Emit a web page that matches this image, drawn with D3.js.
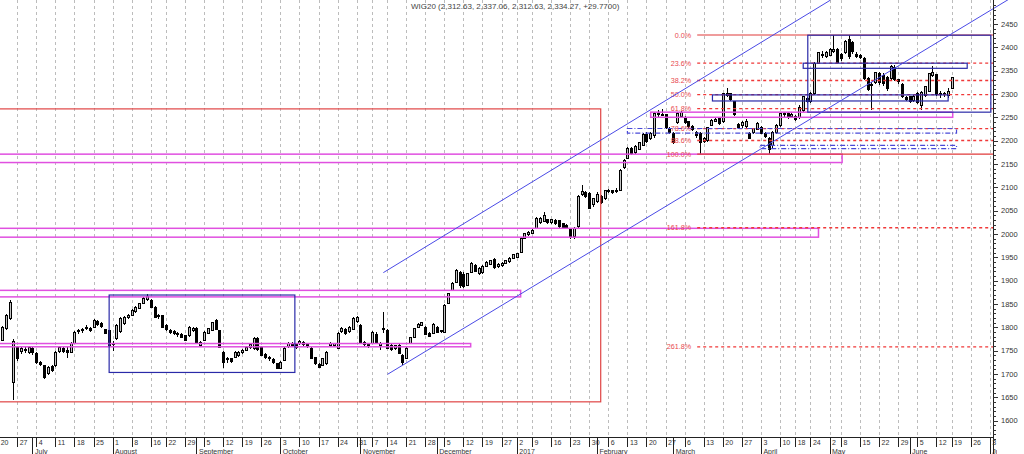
<!DOCTYPE html>
<html>
<head>
<meta charset="utf-8">
<script src="https://cdn.jsdelivr.net/npm/d3@7"></script>
<style>
  body { margin: 0; background: #fff; }
  svg { display: block; font-family: "Liberation Sans", Arial, sans-serif; }
</style>
</head>
<body>
<div id="chart"></div>
<script>
// Trading calendar (Warsaw exchange), first candle = 2016-06-20 which is index -10 (2016-07-04 = 0)
const holidays = ["2016-08-15", "2016-11-01", "2016-11-11", "2016-12-26", "2017-01-06",
                  "2017-04-14", "2017-04-17", "2017-05-01", "2017-05-03", "2017-06-15"];
const firstIndex = -10;

// Daily WIG20 candles
const opens = [
  1770,1772,1798,1819,1682,1757,1747,1752,1746,1755,
  1743,1725,1718,1701,1716,1718,1748,1755,1750,1746,
  1765,1790,1795,1797,1797,1800,1812,1809,1795,1793,
  1762,1776,1790,1808,1821,1825,1833,1840,1851,1860,
  1858,1843,1822,1825,1803,1793,1790,1786,1784,1782,
  1782,1793,1798,1761,1772,1787,1793,1815,1793,1746,
  1730,1733,1736,1740,1746,1750,1757,1754,1776,1757,
  1742,1736,1730,1722,1712,1729,1758,1765,1762,1765,
  1768,1763,1755,1735,1720,1718,1722,1760,1760,1755,
  1790,1795,1790,1795,1812,1804,1767,1763,1765,1785,
  1760,1795,1793,1760,1755,1761,1740,1733,1765,1778,
  1800,1804,1800,1786,1787,1800,1790,1789,1851,1879,
  1896,1918,1912,1890,1918,1932,1915,1918,1930,1935,
  1946,1930,1933,1937,1940,1948,1950,1961,1991,1998,
  2001,2012,2025,2027,2030,2025,2029,2028,2022,2018,
  2010,1995,2015,2085,2088,2087,2062,2070,2080,2075,
  2090,2092,2090,2094,2143,2162,2184,2175,2182,2190,
  2214,2205,2212,2255,2257,2255,2227,2216,2238,2252,
  2250,2240,2231,2218,2216,2198,2200,2233,2242,2248,
  2240,2296,2300,2283,2235,2232,2230,2216,2218,2224,
  2228,2215,2205,2190,2218,2232,2255,2258,2252,2252,
  2250,2265,2290,2283,2300,2366,2385,2380,2383,2392,
  2395,2385,2388,2416,2410,2385,2382,2377,2334,2318,
  2325,2343,2340,2335,2334,2356,2330,2320,2292,2294,
  2285,2302,2275,2296,2306,2340,2341,2300,2302,2296,2312.63
];
const highs = [
  1782,1803,1828,1858,1775,1760,1758,1757,1759,1758,
  1746,1728,1720,1717,1719,1748,1760,1758,1758,1768,
  1791,1796,1798,1804,1800,1818,1815,1812,1797,1795,
  1770,1806,1821,1824,1828,1838,1845,1852,1864,1872,
  1860,1845,1828,1827,1806,1796,1793,1789,1787,1784,
  1802,1800,1800,1770,1791,1799,1812,1818,1795,1748,
  1736,1735,1748,1748,1753,1760,1766,1780,1778,1759,
  1745,1739,1733,1724,1728,1757,1768,1768,1765,1773,
  1771,1766,1757,1737,1723,1735,1748,1768,1767,1790,
  1800,1798,1803,1822,1824,1806,1770,1766,1791,1789,
  1768,1832,1796,1763,1762,1763,1742,1757,1780,1799,
  1808,1812,1802,1789,1808,1803,1795,1849,1874,1896,
  1925,1920,1918,1917,1940,1935,1928,1933,1941,1945,
  1948,1937,1940,1945,1950,1957,1960,1993,2003,2006,
  2010,2036,2036,2048,2033,2033,2032,2030,2024,2021,
  2012,2015,2083,2104,2092,2090,2078,2090,2083,2095,
  2096,2095,2098,2140,2160,2186,2187,2191,2198,2217,
  2218,2218,2262,2265,2268,2258,2230,2218,2262,2263,
  2252,2243,2234,2221,2218,2208,2230,2246,2248,2250,
  2303,2313,2302,2285,2238,2241,2246,2218,2228,2240,
  2231,2218,2207,2221,2235,2260,2262,2262,2260,2255,
  2276,2296,2293,2304,2368,2390,2392,2392,2398,2426,
  2398,2388,2416,2426,2414,2390,2386,2380,2337,2325,
  2348,2347,2345,2338,2362,2362,2333,2323,2296,2296,
  2298,2305,2306,2318,2346,2359,2343,2306,2305,2312,2337.06
];
const lows = [
  1765,1770,1795,1815,1643,1728,1742,1745,1743,1740,
  1722,1716,1688,1698,1704,1715,1745,1745,1733,1744,
  1763,1786,1788,1793,1790,1798,1802,1798,1785,1759,
  1750,1773,1788,1805,1818,1823,1831,1838,1849,1857,
  1841,1819,1818,1798,1792,1785,1784,1780,1776,1770,
  1780,1790,1765,1758,1770,1785,1791,1793,1755,1712,
  1724,1723,1733,1737,1743,1748,1754,1752,1750,1738,
  1732,1728,1722,1710,1710,1727,1755,1757,1754,1762,
  1760,1755,1731,1720,1712,1716,1720,1757,1758,1753,
  1787,1784,1788,1793,1810,1765,1760,1756,1763,1763,
  1752,1788,1753,1750,1752,1742,1720,1731,1763,1776,
  1798,1802,1783,1778,1785,1787,1787,1787,1849,1877,
  1894,1884,1885,1888,1916,1918,1912,1915,1928,1933,
  1925,1927,1930,1935,1938,1946,1948,1959,1989,1995,
  1999,2010,2022,2025,2021,2022,2019,2013,2012,2010,
  1990,1990,2013,2082,2077,2053,2058,2066,2064,2073,
  2087,2085,2087,2092,2140,2160,2170,2172,2180,2188,
  2195,2202,2205,2250,2252,2225,2214,2193,2236,2250,
  2236,2228,2220,2206,2171,2194,2198,2231,2240,2233,
  2238,2293,2285,2253,2225,2228,2228,2203,2214,2222,
  2214,2206,2172,2183,2215,2230,2250,2247,2248,2243,
  2247,2262,2280,2280,2298,2364,2378,2377,2381,2388,
  2366,2370,2385,2376,2385,2378,2376,2330,2307,2265,
  2322,2320,2318,2306,2330,2328,2322,2292,2285,2281,
  2283,2279,2266,2294,2304,2337,2296,2292,2294,2292,2312.63
];
const closes = [
  1778,1800,1825,1853,1770,1732,1755,1750,1757,1745,
  1725,1719,1692,1714,1707,1746,1757,1748,1745,1765,
  1789,1793,1792,1800,1793,1815,1806,1801,1787,1761,
  1765,1804,1818,1821,1826,1836,1843,1850,1862,1865,
  1843,1821,1825,1800,1795,1788,1787,1784,1778,1772,
  1800,1798,1767,1767,1789,1797,1810,1795,1757,1725,
  1733,1726,1746,1745,1750,1757,1763,1776,1752,1740,
  1735,1733,1725,1712,1725,1755,1765,1760,1757,1770,
  1763,1758,1733,1722,1714,1733,1746,1765,1764,1787,
  1797,1786,1800,1819,1821,1767,1763,1760,1789,1767,
  1765,1797,1755,1753,1760,1744,1725,1755,1778,1797,
  1806,1810,1785,1780,1806,1789,1792,1847,1872,1894,
  1922,1890,1888,1915,1937,1920,1925,1930,1939,1942,
  1927,1935,1937,1943,1948,1955,1958,1991,2001,2003,
  2008,2034,2034,2040,2025,2030,2022,2015,2014,2013,
  1995,2012,2080,2090,2080,2055,2075,2085,2068,2092,
  2093,2088,2094,2137,2158,2184,2172,2188,2196,2214,
  2198,2215,2259,2258,2256,2228,2218,2196,2259,2260,
  2238,2230,2223,2210,2197,2205,2228,2244,2245,2236,
  2300,2302,2288,2255,2228,2238,2242,2205,2225,2237,
  2216,2209,2180,2218,2232,2258,2258,2250,2257,2245,
  2272,2294,2283,2300,2365,2388,2382,2388,2395,2396,
  2368,2375,2412,2380,2390,2380,2379,2333,2310,2320,
  2345,2325,2322,2312,2358,2332,2326,2294,2288,2283,
  2295,2281,2304,2315,2344,2345,2298,2302,2298,2304.5,2334.27
];

const titleText = "WIG20 (2,312.63, 2,337.06, 2,312.63, 2,334.27, +29.7700)";
const yTicks = [1600, 1650, 1700, 1750, 1800, 1850, 1900, 1950, 2000, 2050, 2100, 2150, 2200, 2250, 2300, 2350, 2400, 2450];

// Fibonacci retracement (0% = May high, 100% = March low)
const fibHigh = 2426.4;
const fibLow = 2171;
const fibStart = 173.3;
const fibLevels = [0, 23.6, 38.2, 50, 61.8, 78.6, 88.6, 100, 161.8, 261.8];
const fibLabels = ["0.0%", "23.6%", "38.2%", "50.0%", "61.8%", "78.6%", "88.6%", "100.0%", "161.8%", "261.8%"];

// Drawn objects, in trading-day index and price units
const redBoxes = [{ i0: -30, i1: 148, top: 2268, bottom: 1640 }];
const pinkBands = [
  { i0: -30, i1: 211.3, top: 2171, bottom: 2153 },
  { i0: -30, i1: 205.1, top: 2012, bottom: 1993 },
  { i0: -30, i1: 127, top: 1879, bottom: 1865 },
  { i0: -30, i1: 113.9, top: 1765, bottom: 1758 },
  { i0: 161.1, i1: 240.3, top: 2261, bottom: 2250 }
];
const blueBoxes = [
  { i0: 19.1, i1: 67.8, top: 1869, bottom: 1703 },
  { i0: 202.3, i1: 250.3, top: 2426, bottom: 2261 },
  { i0: 201.1, i1: 244.1, top: 2366, bottom: 2355 },
  { i0: 177.3, i1: 239.1, top: 2298, bottom: 2285 }
];
const dashBoxes = [
  { i0: 155, i1: 241.3, top: 2226, bottom: 2216 },
  { i0: 189.8, i1: 241.3, top: 2190, bottom: 2183 }
];
const channelLines = [
  { i0: 92.1, v0: 1699, i1: 255, v1: 2503 },
  { i0: 91, v0: 1917, i1: 208.2, v1: 2501 }
];

function draw() {
  const width = 1024, height = 454;
  const axisX = 993;     // right price axis
  const axisY = 437;     // top of the date strip

  const svg = d3.select("#chart").append("svg")
    .attr("width", width)
    .attr("height", height);

  // trading days
  const fmt = d3.utcFormat("%Y-%m-%d");
  const days = d3.utcDay.range(new Date(Date.UTC(2016, 5, 20)), new Date(Date.UTC(2017, 6, 8)))
    .filter(d => d.getUTCDay() % 6 !== 0 && !holidays.includes(fmt(d)));
  const dayIdx = days.map((d, k) => ({ date: d, i: k + firstIndex }));

  const x = d3.scaleLinear().domain([0, 250]).range([36.3, 989.7]);
  const y = d3.scaleLinear().domain([1600, 2450]).range([420.5, 24]);

  const weekStarts = dayIdx.filter((d, k) => k === 0 ||
    +d3.utcMonday.floor(d.date) !== +d3.utcMonday.floor(dayIdx[k - 1].date));
  const monthStarts = dayIdx.filter((d, k) => k > 0 &&
    d.date.getUTCMonth() !== dayIdx[k - 1].date.getUTCMonth());

  svg.append("clipPath").attr("id", "plotClip")
    .append("rect").attr("x", 0).attr("y", 0).attr("width", axisX).attr("height", axisY);
  svg.append("clipPath").attr("id", "dateClip")
    .append("rect").attr("x", 0).attr("y", axisY).attr("width", 997).attr("height", height - axisY);

  // vertical dashed grid
  svg.append("g")
    .selectAll("line")
    .data(weekStarts)
    .join("line")
    .attr("x1", d => Math.round(x(d.i)) + 0.5)
    .attr("x2", d => Math.round(x(d.i)) + 0.5)
    .attr("y1", 0)
    .attr("y2", axisY)
    .attr("stroke", "#bcbcbc")
    .attr("stroke-dasharray", "3,3");

  const plot = svg.append("g").attr("clip-path", "url(#plotClip)");

  // candles
  const candles = opens.map((o, k) => ({
    i: k + firstIndex, o, h: highs[k], l: lows[k], c: closes[k]
  }));
  const cg = plot.append("g").attr("shape-rendering", "crispEdges");
  cg.selectAll("line")
    .data(candles)
    .join("line")
    .attr("x1", d => Math.round(x(d.i)) + 0.5)
    .attr("x2", d => Math.round(x(d.i)) + 0.5)
    .attr("y1", d => y(d.h))
    .attr("y2", d => y(d.l))
    .attr("stroke", "#000");
  cg.selectAll("rect")
    .data(candles)
    .join("rect")
    .attr("x", d => Math.round(x(d.i)) - 0.5)
    .attr("width", 2)
    .attr("y", d => y(Math.max(d.o, d.c)))
    .attr("height", d => Math.max(1, y(Math.min(d.o, d.c)) - y(Math.max(d.o, d.c))))
    .attr("fill", d => d.c >= d.o ? "#c4c4c4" : "#000")
    .attr("stroke", "#000");

  // red box
  plot.append("g").selectAll("rect")
    .data(redBoxes)
    .join("rect")
    .attr("x", d => x(d.i0)).attr("width", d => x(d.i1) - x(d.i0))
    .attr("y", d => y(d.top)).attr("height", d => y(d.bottom) - y(d.top))
    .attr("fill", "none").attr("stroke", "#e04444").attr("stroke-width", 1.2);

  // pink bands
  plot.append("g").selectAll("rect")
    .data(pinkBands)
    .join("rect")
    .attr("x", d => x(d.i0)).attr("width", d => x(d.i1) - x(d.i0))
    .attr("y", d => y(d.top)).attr("height", d => y(d.bottom) - y(d.top))
    .attr("fill", "none").attr("stroke", "#e050e0").attr("stroke-width", 1.5);

  // fibonacci lines and labels
  const fib = fibLevels.map((p, k) => ({
    v: fibHigh - (fibHigh - fibLow) * p / 100, label: fibLabels[k], solid: p === 0 || p === 100
  }));
  plot.append("g")
    .selectAll("line")
    .data(fib)
    .join("line")
    .attr("x1", x(fibStart)).attr("x2", axisX)
    .attr("y1", d => y(d.v)).attr("y2", d => y(d.v))
    .attr("stroke", d => d.solid ? "#e03a3a" : "#f03838")
    .attr("stroke-width", d => d.solid ? 1.2 : 1.4)
    .attr("stroke-dasharray", d => d.solid ? null : "3,3");
  svg.append("g").selectAll("text")
    .data(fib)
    .join("text")
    .attr("x", x(fibStart) - 6)
    .attr("y", d => y(d.v) + 2.5)
    .attr("text-anchor", "end")
    .attr("font-size", 7.2)
    .attr("fill", "#e8484e")
    .text(d => d.label);

  // dashed blue boxes
  plot.append("g").selectAll("rect")
    .data(dashBoxes)
    .join("rect")
    .attr("x", d => x(d.i0)).attr("width", d => x(d.i1) - x(d.i0))
    .attr("y", d => y(d.top)).attr("height", d => y(d.bottom) - y(d.top))
    .attr("fill", "none").attr("stroke", "#4a4ad8").attr("stroke-width", 1.2)
    .attr("stroke-dasharray", "5,2,1,2");

  // blue boxes
  plot.append("g").selectAll("rect")
    .data(blueBoxes)
    .join("rect")
    .attr("x", d => x(d.i0)).attr("width", d => x(d.i1) - x(d.i0))
    .attr("y", d => y(d.top)).attr("height", d => y(d.bottom) - y(d.top))
    .attr("fill", "none").attr("stroke", "#2a2aa8").attr("stroke-width", 1.2);

  // trend channel
  svg.append("g").selectAll("line")
    .data(channelLines)
    .join("line")
    .attr("x1", d => x(d.i0)).attr("y1", d => y(d.v0))
    .attr("x2", d => x(d.i1)).attr("y2", d => y(d.v1))
    .attr("stroke", "#4a4ae6").attr("stroke-width", 1);

  // title
  svg.append("text")
    .attr("x", 411).attr("y", 8.5)
    .attr("font-size", 8)
    .attr("fill", "#444")
    .text(titleText);

  // right price axis
  const ax = svg.append("g").attr("shape-rendering", "crispEdges");
  ax.append("line")
    .attr("x1", axisX + 0.5).attr("x2", axisX + 0.5)
    .attr("y1", 0).attr("y2", height)
    .attr("stroke", "#222");
  const minor = d3.range(1560, 2500, 10);
  ax.selectAll(".minor")
    .data(minor)
    .join("line")
    .attr("class", "minor")
    .attr("x1", axisX).attr("x2", d => axisX + (d % 50 === 0 ? 5 : 2.5))
    .attr("y1", d => Math.round(y(d)) + 0.5).attr("y2", d => Math.round(y(d)) + 0.5)
    .attr("stroke", "#333");
  svg.append("g").selectAll("text")
    .data(yTicks)
    .join("text")
    .attr("x", 1001)
    .attr("y", d => y(d) + 2.7)
    .attr("font-size", 7.5)
    .attr("fill", "#333")
    .text(d => d);

  // date strip
  const dg = svg.append("g").attr("clip-path", "url(#dateClip)");
  dg.append("line")
    .attr("x1", 0).attr("x2", axisX)
    .attr("y1", axisY + 0.5).attr("y2", axisY + 0.5)
    .attr("stroke", "#222");
  dg.append("g").attr("shape-rendering", "crispEdges")
    .selectAll("line")
    .data(weekStarts)
    .join("line")
    .attr("x1", d => Math.round(x(d.i)) + 0.5).attr("x2", d => Math.round(x(d.i)) + 0.5)
    .attr("y1", axisY).attr("y2", axisY + 10)
    .attr("stroke", "#222");
  dg.append("g").selectAll("text")
    .data(weekStarts)
    .join("text")
    .attr("x", d => x(d.i) + 2.5)
    .attr("y", axisY + 8)
    .attr("font-size", 7)
    .attr("fill", "#333")
    .text(d => d.date.getUTCDate());
  dg.append("g").attr("shape-rendering", "crispEdges")
    .selectAll("line")
    .data(monthStarts)
    .join("line")
    .attr("x1", d => Math.round(x(d.i)) + 0.5).attr("x2", d => Math.round(x(d.i)) + 0.5)
    .attr("y1", axisY).attr("y2", height)
    .attr("stroke", "#222");
  const monthName = d3.utcFormat("%B");
  dg.append("g").selectAll("text")
    .data(monthStarts)
    .join("text")
    .attr("x", d => x(d.i) + 2.5)
    .attr("y", axisY + 16.5)
    .attr("font-size", 7)
    .attr("fill", "#333")
    .text(d => d.date.getUTCMonth() === 0 ? d.date.getUTCFullYear() : monthName(d.date));
}

document.addEventListener("DOMContentLoaded", draw);
</script>
</body>
</html>
